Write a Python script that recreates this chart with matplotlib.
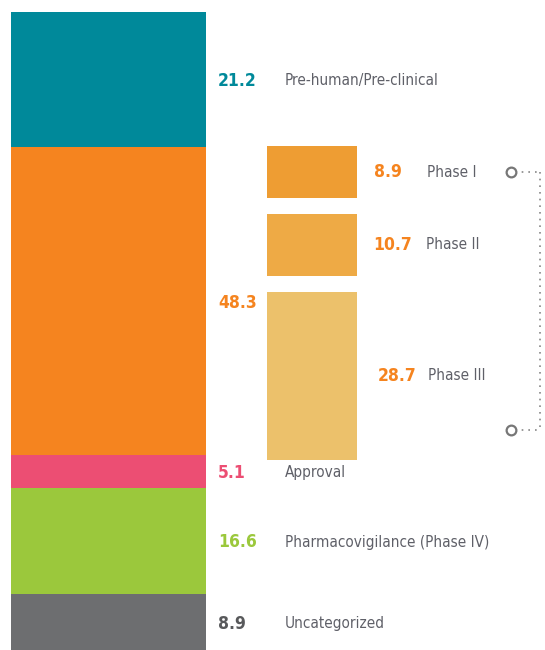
import numpy as np
import matplotlib
matplotlib.use("Agg")
import matplotlib.pyplot as plt

plt.rcParams['font.family'] = ['DejaVu Sans']
plt.rcParams['font.stretch'] = 'condensed'

# main stages
stages = ['Pre-human/Pre-clinical', '', 'Approval', 'Pharmacovigilance (Phase IV)', 'Uncategorized']
stage_vals = [21.2, 48.3, 5.1, 16.6, 8.9]
stage_cols = ['#00899a', '#f5841f', '#ec4e73', '#9bc83c', '#6d6e70']
num_cols = ['#00899a', '#f5841f', '#ec4e73', '#9bc83c', '#58595b']

# clinical phases
phases = ['Phase I', 'Phase II', 'Phase III']
phase_vals = [8.9, 10.7, 28.7]
phase_cols = ['#ee9d33', '#eeaa45', '#ecc16b']

PX = 6.38          # pixels per unit
TOP = 12           # px of first bar
k = 0.917          # scale of phase bars
gap = 2.43

fig = plt.figure(figsize=(5.45, 6.5), dpi=100)
ax = fig.add_axes([0, 0, 1, 1])
ax.set_xlim(0, 545)
ax.set_ylim((650 - TOP) / PX, -TOP / PX)
ax.axis('off')

bottoms = np.concatenate([[0], np.cumsum(stage_vals)[:-1]])
ax.bar(108.5, stage_vals, bottom=bottoms, width=195, color=stage_cols, align='center')

for i, (v, b) in enumerate(zip(stage_vals, bottoms)):
    yc = b + v / 2 + 0.2
    ax.text(218, yc, f'{v}', color=num_cols[i], fontsize=12.5, fontweight='bold',
            va='center', ha='left')
    if stages[i]:
        ax.text(285, yc, stages[i], color='#5f6068', fontsize=11, va='center', ha='left')

# phase bars
pstart = 21.0
pb = []
cur = pstart
for v in phase_vals:
    pb.append(cur)
    cur += v * k + gap
ph = [v * k for v in phase_vals]
ax.bar(312, ph, bottom=pb, width=90, color=phase_cols)

num_x = [374, 373, 378]
lab_x = [427, 426, 428]
for i in range(3):
    yc = pb[i] + ph[i] / 2
    ax.text(num_x[i], yc, f'{phase_vals[i]}', color='#f5841f', fontsize=12.5,
            fontweight='bold', va='center', ha='left')
    ax.text(lab_x[i], yc, phases[i], color='#5f6068', fontsize=11, va='center', ha='left')

# bracket
y1 = pb[0] + ph[0] / 2
y2 = (430 - TOP) / PX
ax.plot([540, 540], [y1, y2], color='#888888', lw=1.2, ls=(0, (1, 3)))
ax.plot([515, 540], [y1, y1], color='#888888', lw=1.2, ls=(0, (1, 3)))
ax.plot([515, 540], [y2, y2], color='#888888', lw=1.2, ls=(0, (1, 3)))
ax.plot([511, 511], [y1, y2], ls='none', marker='o', ms=7, mfc='white',
        mec='#777777', mew=1.6)

fig.savefig('out.png', dpi=100)
